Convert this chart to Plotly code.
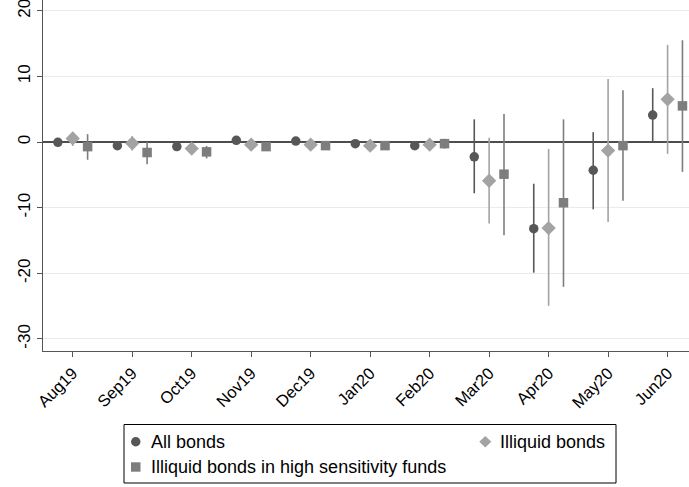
import plotly.graph_objects as go

months = ["Aug19", "Sep19", "Oct19", "Nov19", "Dec19", "Jan20", "Feb20",
          "Mar20", "Apr20", "May20", "Jun20"]

all_est = [-0.05, -0.55, -0.7, 0.25, 0.15, -0.25, -0.55, -2.25, -13.2, -4.3, 4.1]
all_lo = [-0.5, -1.0, -1.1, -0.2, -0.3, -0.7, -1.0, -7.8, -19.9, -10.25, 0.05]
all_hi = [0.4, -0.1, -0.3, 0.7, 0.6, 0.2, -0.1, 3.45, -6.35, 1.5, 8.2]

ill_est = [0.55, -0.2, -1.0, -0.4, -0.4, -0.55, -0.4, -5.9, -13.1, -1.3, 6.5]
ill_lo = [-0.6, -1.3, -1.5, -0.9, -0.9, -1.0, -0.9, -12.4, -24.95, -12.2, -1.8]
ill_hi = [1.5, 0.9, -0.5, 0.1, 0.1, -0.1, 0.1, 0.65, -1.05, 9.6, 14.8]

hs_est = [-0.7, -1.6, -1.5, -0.7, -0.55, -0.55, -0.25, -4.9, -9.25, -0.55, 5.5]
hs_lo = [-2.7, -3.4, -2.5, -1.3, -1.2, -1.2, -1.0, -14.2, -22.05, -8.95, -4.55]
hs_hi = [1.2, 0.0, -0.6, -0.1, 0.1, 0.1, 0.5, 4.25, 3.45, 7.9, 15.5]

C_ALL, C_ILL, C_HS = "#575757", "#a3a3a3", "#7d7d7d"

series = [
    ("All bonds", all_est, all_lo, all_hi, -0.25, "circle", 9.5, C_ALL),
    ("Illiquid bonds", ill_est, ill_lo, ill_hi, 0.0, "diamond", 11, C_ILL),
    ("Illiquid bonds in high sensitivity funds", hs_est, hs_lo, hs_hi, 0.25, "square", 9.5, C_HS),
]

FONT = "Liberation Sans, Arial, sans-serif"
W, H = 689, 487
ML, MR, MT, MB = 43, 0, 0, 136
PW, PH = W - ML - MR, H - MT - MB

fig = go.Figure()
for name, est, lo, hi, off, sym, size, col in series:
    xs = [i + off for i in range(len(months))]
    fig.add_trace(go.Scatter(
        x=xs, y=est, mode="markers", name=name, showlegend=False,
        marker=dict(symbol=sym, size=size, color=col, line=dict(width=0)),
        error_y=dict(type="data", symmetric=False,
                     array=[h - e for h, e in zip(hi, est)],
                     arrayminus=[e - l for e, l in zip(est, lo)],
                     color=col, thickness=1.6, width=0),
    ))


def px(x):
    return (x - ML) / PW


def py(y):
    return (MT + PH - y) / PH


shapes = [
    dict(type="rect", xref="paper", yref="paper", x0=px(124), x1=px(616),
         y0=py(424.5), y1=py(483), line=dict(color="black", width=1),
         fillcolor="white"),
    dict(type="circle", xref="paper", yref="paper", x0=px(131), x1=px(140.5),
         y0=py(437), y1=py(446.5), line=dict(width=0), fillcolor=C_ALL),
    dict(type="rect", xref="paper", yref="paper", x0=px(131), x1=px(140.5),
         y0=py(462.3), y1=py(471.7), line=dict(width=0), fillcolor=C_HS),
    dict(type="path", xref="paper", yref="paper",
         path="M {a},{b} L {c},{d} L {a},{e} L {f},{d} Z".format(
             a=px(485.3), b=py(436), c=px(491.3), d=py(441.7), e=py(447.4), f=px(479.3)),
         line=dict(width=0), fillcolor=C_ILL),
]

annotations = [
    dict(text="All bonds", xref="paper", yref="paper", x=px(149), y=py(442),
         xanchor="left", yanchor="middle", showarrow=False,
         font=dict(size=18, color="black", family=FONT)),
    dict(text="Illiquid bonds", xref="paper", yref="paper", x=px(498), y=py(442),
         xanchor="left", yanchor="middle", showarrow=False,
         font=dict(size=18, color="black", family=FONT)),
    dict(text="Illiquid bonds in high sensitivity funds", xref="paper", yref="paper",
         x=px(149), y=py(467), xanchor="left", yanchor="middle", showarrow=False,
         font=dict(size=18, color="black", family=FONT)),
]

fig.update_layout(
    width=W, height=H,
    margin=dict(l=ML, r=MR, t=MT, b=MB, pad=0),
    paper_bgcolor="white", plot_bgcolor="white",
    showlegend=False,
    font=dict(family=FONT, size=16, color="black"),
    shapes=shapes, annotations=annotations,
    xaxis=dict(
        range=[-0.5, 10.36],
        tickmode="array", tickvals=list(range(len(months))), ticktext=months,
        tickangle=-45, ticks="outside", ticklen=5, tickcolor="#555555",
        showline=True, linecolor="#555555", linewidth=1.2,
        showgrid=False, zeroline=False, ticklabeloverflow="allow",
        tickfont=dict(size=16.5, family=FONT),
    ),
    yaxis=dict(
        range=[-31.83, 21.63],
        tickmode="array", tickvals=[-30, -20, -10, 0, 10, 20],
        ticktext=["-30", "-20", "-10", "0", "10", "20"],
        tickangle=-90, ticks="outside", ticklen=5, tickcolor="#555555",
        showline=True, linecolor="#555555", linewidth=1.2,
        showgrid=True, gridcolor="#ebebeb", gridwidth=1,
        zeroline=True, zerolinecolor="#4d4d4d", zerolinewidth=1.6,
        ticklabeloverflow="allow",
        tickfont=dict(size=17, family=FONT),
    ),
)

fig.write_html("out.html")
